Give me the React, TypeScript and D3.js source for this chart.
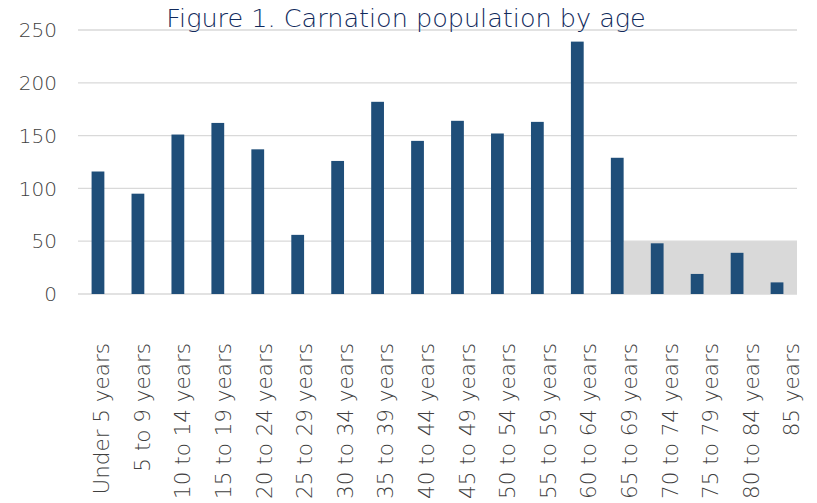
import React from "react";
import * as d3 from "d3";

const ageGroups = [
  "Under 5 years",
  "5 to 9 years",
  "10 to 14 years",
  "15 to 19 years",
  "20 to 24 years",
  "25 to 29 years",
  "30 to 34 years",
  "35 to 39 years",
  "40 to 44 years",
  "45 to 49 years",
  "50 to 54 years",
  "55 to 59 years",
  "60 to 64 years",
  "65 to 69 years",
  "70 to 74 years",
  "75 to 79 years",
  "80 to 84 years",
  "85 years"
];
const population = [116, 95, 151, 162, 137, 56, 126, 182, 145, 164, 152, 163, 239, 129, 48, 19, 39, 11];
const yTicks = [0, 50, 100, 150, 200, 250];
// grey band behind the small groups, below this value
const shadeTop = 50;
const shadeFrom = "70 to 74 years";

const title = "Figure 1. Carnation population by age";

const W = 817;
const H = 503;
const margin = { left: 78, right: 20, top: 30, bottom: 209 };
const font = "'DejaVu Sans', sans-serif";

export default function App() {
  const x = d3
    .scaleBand()
    .domain(ageGroups)
    .range([margin.left, W - margin.right])
    .paddingInner(0.68)
    .paddingOuter(0.34);
  // labels in the picture sit on a slightly wider spacing than the bars
  const xLabel = d3.scaleBand().domain(ageGroups).range([81, 812]);
  const y = d3
    .scaleLinear()
    .domain([0, 250])
    .range([H - margin.bottom, margin.top]);

  const shadeX = (x(shadeFrom) as number) - (x.step() - x.bandwidth());

  return (
    <svg
      width={W}
      height={H}
      style={{ position: "absolute", left: 0, top: 0, background: "#fff" }}
      fontFamily={font}
      fontWeight={200}
    >
      <rect
        x={shadeX}
        y={y(shadeTop)}
        width={W - margin.right - shadeX}
        height={y(0) - y(shadeTop)}
        fill="#d9d9d9"
      />
      {yTicks.map((t) => (
        <g key={t}>
          <line
            x1={margin.left}
            x2={W - margin.right}
            y1={y(t)}
            y2={y(t)}
            stroke="#d9d9d9"
            strokeWidth={1.3}
          />
          <text
            x={57}
            y={y(t)}
            dy="0.36em"
            textAnchor="end"
            fontSize={20}
            fill="#404040"
          >
            {t}
          </text>
        </g>
      ))}
      {ageGroups.map((g, i) => (
        <rect
          key={g}
          x={x(g)}
          y={y(population[i])}
          width={x.bandwidth()}
          height={y(0) - y(population[i])}
          fill="#1f4e79"
        />
      ))}
      {ageGroups.map((g) => {
        const cx = (xLabel(g) as number) + xLabel.bandwidth() / 2;
        return (
          <text
            key={g}
            transform={`translate(${cx},343) rotate(-90)`}
            dy="0.36em"
            textAnchor="end"
            fontSize={21.5}
            fill="#404040"
          >
            {g}
          </text>
        );
      })}
      <text x={406} y={27} textAnchor="middle" fontSize={25.5} fill="#112a5c">
        {title}
      </text>
    </svg>
  );
}
